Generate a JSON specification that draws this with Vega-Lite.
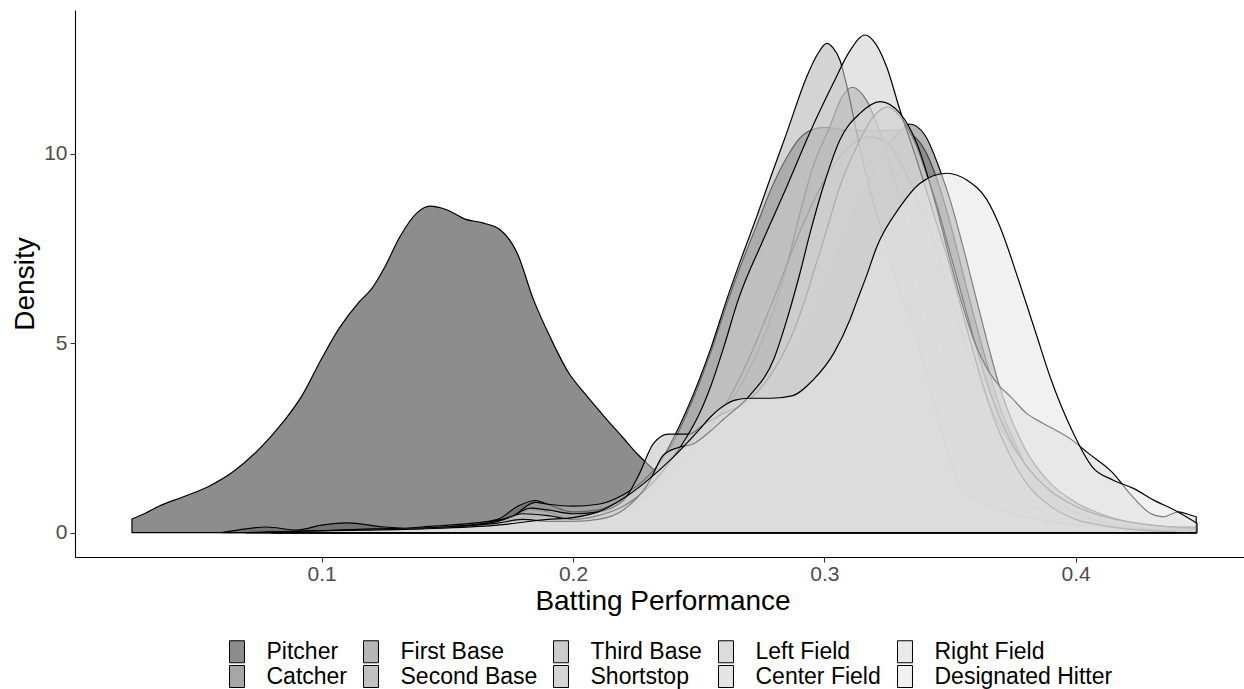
{
"$schema": "https://vega.github.io/schema/vega-lite/v6.json",
"width": 1169, "height": 547,
"autosize": {"type": "none"},
"padding": {"left": 75, "top": 10, "right": 0, "bottom": 132},
"background": "white",
"config": {"view": {"stroke": null}, "font": "Liberation Sans"},
"data": {"values": [
{"g":"Pitcher","x":0.0245,"y":0.36},{"g":"Pitcher","x":0.03,"y":0.52},{"g":"Pitcher","x":0.035,"y":0.69},{"g":"Pitcher","x":0.045,"y":0.95},{"g":"Pitcher","x":0.055,"y":1.22},{"g":"Pitcher","x":0.065,"y":1.62},{"g":"Pitcher","x":0.075,"y":2.2},{"g":"Pitcher","x":0.085,"y":2.95},{"g":"Pitcher","x":0.092,"y":3.6},{"g":"Pitcher","x":0.1,"y":4.6},{"g":"Pitcher","x":0.107,"y":5.4},{"g":"Pitcher","x":0.115,"y":6.1},{"g":"Pitcher","x":0.12,"y":6.45},{"g":"Pitcher","x":0.125,"y":7.0},{"g":"Pitcher","x":0.131,"y":7.8},{"g":"Pitcher","x":0.138,"y":8.45},{"g":"Pitcher","x":0.143,"y":8.62},{"g":"Pitcher","x":0.15,"y":8.52},{"g":"Pitcher","x":0.157,"y":8.28},{"g":"Pitcher","x":0.164,"y":8.18},{"g":"Pitcher","x":0.171,"y":8.0},{"g":"Pitcher","x":0.178,"y":7.35},{"g":"Pitcher","x":0.184,"y":6.2},{"g":"Pitcher","x":0.191,"y":5.15},{"g":"Pitcher","x":0.198,"y":4.25},{"g":"Pitcher","x":0.205,"y":3.65},{"g":"Pitcher","x":0.212,"y":3.1},{"g":"Pitcher","x":0.22,"y":2.5},{"g":"Pitcher","x":0.226,"y":2.05},{"g":"Pitcher","x":0.235,"y":1.5},{"g":"Pitcher","x":0.245,"y":1.0},{"g":"Pitcher","x":0.26,"y":0.55},{"g":"Pitcher","x":0.275,"y":0.3},{"g":"Pitcher","x":0.29,"y":0.15},{"g":"Pitcher","x":0.31,"y":0.07},{"g":"Pitcher","x":0.33,"y":0.03},{"g":"Pitcher","x":0.36,"y":0.01},{"g":"Pitcher","x":0.4,"y":0.0},
{"g":"Catcher","x":0.06,"y":0},{"g":"Catcher","x":0.07,"y":0.1},{"g":"Catcher","x":0.078,"y":0.15},{"g":"Catcher","x":0.09,"y":0.07},{"g":"Catcher","x":0.1,"y":0.2},{"g":"Catcher","x":0.11,"y":0.26},{"g":"Catcher","x":0.125,"y":0.15},{"g":"Catcher","x":0.14,"y":0.1},{"g":"Catcher","x":0.155,"y":0.2},{"g":"Catcher","x":0.17,"y":0.35},{"g":"Catcher","x":0.178,"y":0.7},{"g":"Catcher","x":0.185,"y":0.85},{"g":"Catcher","x":0.19,"y":0.75},{"g":"Catcher","x":0.2,"y":0.55},{"g":"Catcher","x":0.21,"y":0.6},{"g":"Catcher","x":0.22,"y":0.9},{"g":"Catcher","x":0.23,"y":1.4},{"g":"Catcher","x":0.235,"y":1.9},{"g":"Catcher","x":0.24,"y":2.4},{"g":"Catcher","x":0.245,"y":3.1},{"g":"Catcher","x":0.25,"y":3.9},{"g":"Catcher","x":0.255,"y":4.8},{"g":"Catcher","x":0.261,"y":6.0},{"g":"Catcher","x":0.267,"y":7.1},{"g":"Catcher","x":0.273,"y":8.1},{"g":"Catcher","x":0.279,"y":9.1},{"g":"Catcher","x":0.285,"y":9.9},{"g":"Catcher","x":0.29,"y":10.4},{"g":"Catcher","x":0.2955,"y":10.65},{"g":"Catcher","x":0.3,"y":10.7},{"g":"Catcher","x":0.31,"y":10.62},{"g":"Catcher","x":0.32,"y":10.62},{"g":"Catcher","x":0.33,"y":10.62},{"g":"Catcher","x":0.335,"y":10.5},{"g":"Catcher","x":0.34,"y":10.1},{"g":"Catcher","x":0.345,"y":9.3},{"g":"Catcher","x":0.35,"y":8.2},{"g":"Catcher","x":0.355,"y":6.9},{"g":"Catcher","x":0.36,"y":5.6},{"g":"Catcher","x":0.365,"y":4.4},{"g":"Catcher","x":0.37,"y":3.3},{"g":"Catcher","x":0.375,"y":2.5},{"g":"Catcher","x":0.38,"y":1.8},{"g":"Catcher","x":0.39,"y":1.0},{"g":"Catcher","x":0.4,"y":0.55},{"g":"Catcher","x":0.41,"y":0.3},{"g":"Catcher","x":0.42,"y":0.2},{"g":"Catcher","x":0.43,"y":0.1},{"g":"Catcher","x":0.44,"y":0.05},
{"g":"First Base","x":0.1,"y":0},{"g":"First Base","x":0.12,"y":0.05},{"g":"First Base","x":0.14,"y":0.1},{"g":"First Base","x":0.16,"y":0.2},{"g":"First Base","x":0.18,"y":0.3},{"g":"First Base","x":0.2,"y":0.3},{"g":"First Base","x":0.21,"y":0.35},{"g":"First Base","x":0.22,"y":0.55},{"g":"First Base","x":0.23,"y":1.0},{"g":"First Base","x":0.24,"y":1.7},{"g":"First Base","x":0.25,"y":2.3},{"g":"First Base","x":0.26,"y":2.8},{"g":"First Base","x":0.27,"y":3.2},{"g":"First Base","x":0.28,"y":3.9},{"g":"First Base","x":0.29,"y":4.9},{"g":"First Base","x":0.3,"y":6.4},{"g":"First Base","x":0.31,"y":8.1},{"g":"First Base","x":0.32,"y":9.6},{"g":"First Base","x":0.325,"y":10.2},{"g":"First Base","x":0.33,"y":10.6},{"g":"First Base","x":0.334,"y":10.79},{"g":"First Base","x":0.34,"y":10.5},{"g":"First Base","x":0.3468,"y":9.43},{"g":"First Base","x":0.35,"y":8.8},{"g":"First Base","x":0.355,"y":7.6},{"g":"First Base","x":0.36,"y":6.3},{"g":"First Base","x":0.365,"y":5.0},{"g":"First Base","x":0.37,"y":3.8},{"g":"First Base","x":0.375,"y":2.9},{"g":"First Base","x":0.38,"y":2.2},{"g":"First Base","x":0.39,"y":1.3},{"g":"First Base","x":0.4,"y":0.8},{"g":"First Base","x":0.41,"y":0.5},{"g":"First Base","x":0.42,"y":0.3},{"g":"First Base","x":0.43,"y":0.2},{"g":"First Base","x":0.44,"y":0.15},{"g":"First Base","x":0.448,"y":0.15},
{"g":"Second Base","x":0.09,"y":0},{"g":"Second Base","x":0.12,"y":0.05},{"g":"Second Base","x":0.14,"y":0.1},{"g":"Second Base","x":0.16,"y":0.2},{"g":"Second Base","x":0.175,"y":0.35},{"g":"Second Base","x":0.183,"y":0.6},{"g":"Second Base","x":0.19,"y":0.55},{"g":"Second Base","x":0.2,"y":0.35},{"g":"Second Base","x":0.21,"y":0.4},{"g":"Second Base","x":0.22,"y":0.6},{"g":"Second Base","x":0.23,"y":1.1},{"g":"Second Base","x":0.24,"y":1.9},{"g":"Second Base","x":0.25,"y":2.6},{"g":"Second Base","x":0.26,"y":3.2},{"g":"Second Base","x":0.27,"y":4.3},{"g":"Second Base","x":0.28,"y":5.9},{"g":"Second Base","x":0.285,"y":7.02},{"g":"Second Base","x":0.2903,"y":8.43},{"g":"Second Base","x":0.2955,"y":9.66},{"g":"Second Base","x":0.3022,"y":10.72},{"g":"Second Base","x":0.307,"y":11.5},{"g":"Second Base","x":0.311,"y":11.76},{"g":"Second Base","x":0.3169,"y":11.4},{"g":"Second Base","x":0.3222,"y":10.55},{"g":"Second Base","x":0.33,"y":8.8},{"g":"Second Base","x":0.34,"y":6.0},{"g":"Second Base","x":0.35,"y":3.8},{"g":"Second Base","x":0.36,"y":2.3},{"g":"Second Base","x":0.37,"y":1.4},{"g":"Second Base","x":0.38,"y":0.8},{"g":"Second Base","x":0.39,"y":0.5},{"g":"Second Base","x":0.4,"y":0.3},{"g":"Second Base","x":0.42,"y":0.15},{"g":"Second Base","x":0.44,"y":0.08},{"g":"Second Base","x":0.448,"y":0.05},
{"g":"Third Base","x":0.08,"y":0},{"g":"Third Base","x":0.12,"y":0.05},{"g":"Third Base","x":0.16,"y":0.15},{"g":"Third Base","x":0.18,"y":0.4},{"g":"Third Base","x":0.19,"y":0.45},{"g":"Third Base","x":0.2,"y":0.35},{"g":"Third Base","x":0.21,"y":0.4},{"g":"Third Base","x":0.22,"y":0.6},{"g":"Third Base","x":0.23,"y":1.0},{"g":"Third Base","x":0.24,"y":1.7},{"g":"Third Base","x":0.25,"y":2.4},{"g":"Third Base","x":0.26,"y":3.3},{"g":"Third Base","x":0.27,"y":4.6},{"g":"Third Base","x":0.28,"y":6.2},{"g":"Third Base","x":0.29,"y":7.9},{"g":"Third Base","x":0.3,"y":9.3},{"g":"Third Base","x":0.31,"y":10.2},{"g":"Third Base","x":0.318,"y":10.45},{"g":"Third Base","x":0.325,"y":10.3},{"g":"Third Base","x":0.33,"y":9.8},{"g":"Third Base","x":0.34,"y":8.3},{"g":"Third Base","x":0.35,"y":6.3},{"g":"Third Base","x":0.36,"y":4.3},{"g":"Third Base","x":0.37,"y":2.8},{"g":"Third Base","x":0.38,"y":1.8},{"g":"Third Base","x":0.39,"y":1.1},{"g":"Third Base","x":0.4,"y":0.7},{"g":"Third Base","x":0.41,"y":0.45},{"g":"Third Base","x":0.42,"y":0.3},{"g":"Third Base","x":0.43,"y":0.2},{"g":"Third Base","x":0.44,"y":0.12},{"g":"Third Base","x":0.448,"y":0.1},
{"g":"Shortstop","x":0.07,"y":0},{"g":"Shortstop","x":0.08,"y":0.02},{"g":"Shortstop","x":0.1,"y":0.05},{"g":"Shortstop","x":0.12,"y":0.05},{"g":"Shortstop","x":0.14,"y":0.15},{"g":"Shortstop","x":0.16,"y":0.25},{"g":"Shortstop","x":0.175,"y":0.4},{"g":"Shortstop","x":0.185,"y":0.8},{"g":"Shortstop","x":0.19,"y":0.75},{"g":"Shortstop","x":0.2,"y":0.7},{"g":"Shortstop","x":0.21,"y":0.75},{"g":"Shortstop","x":0.22,"y":1.0},{"g":"Shortstop","x":0.23,"y":1.5},{"g":"Shortstop","x":0.235,"y":1.9},{"g":"Shortstop","x":0.24,"y":2.5},{"g":"Shortstop","x":0.245,"y":3.2},{"g":"Shortstop","x":0.25,"y":4.0},{"g":"Shortstop","x":0.255,"y":4.9},{"g":"Shortstop","x":0.2611,"y":6.14},{"g":"Shortstop","x":0.267,"y":7.25},{"g":"Shortstop","x":0.2731,"y":8.34},{"g":"Shortstop","x":0.279,"y":9.45},{"g":"Shortstop","x":0.285,"y":10.55},{"g":"Shortstop","x":0.293,"y":12.04},{"g":"Shortstop","x":0.297,"y":12.6},{"g":"Shortstop","x":0.301,"y":12.92},{"g":"Shortstop","x":0.3035,"y":12.8},{"g":"Shortstop","x":0.3062,"y":12.48},{"g":"Shortstop","x":0.309,"y":11.78},{"g":"Shortstop","x":0.315,"y":9.9},{"g":"Shortstop","x":0.32,"y":8.6},{"g":"Shortstop","x":0.325,"y":7.5},{"g":"Shortstop","x":0.33,"y":6.4},{"g":"Shortstop","x":0.335,"y":5.5},{"g":"Shortstop","x":0.3413,"y":4.03},{"g":"Shortstop","x":0.347,"y":2.6},{"g":"Shortstop","x":0.3528,"y":1.39},{"g":"Shortstop","x":0.36,"y":0.9},{"g":"Shortstop","x":0.374,"y":0.52},{"g":"Shortstop","x":0.39,"y":0.3},{"g":"Shortstop","x":0.41,"y":0.15},{"g":"Shortstop","x":0.43,"y":0.08},{"g":"Shortstop","x":0.448,"y":0.05},
{"g":"Left Field","x":0.08,"y":0},{"g":"Left Field","x":0.1,"y":0.03},{"g":"Left Field","x":0.12,"y":0.07},{"g":"Left Field","x":0.14,"y":0.1},{"g":"Left Field","x":0.16,"y":0.2},{"g":"Left Field","x":0.175,"y":0.4},{"g":"Left Field","x":0.183,"y":0.65},{"g":"Left Field","x":0.19,"y":0.6},{"g":"Left Field","x":0.2,"y":0.5},{"g":"Left Field","x":0.21,"y":0.55},{"g":"Left Field","x":0.22,"y":0.85},{"g":"Left Field","x":0.226,"y":1.5},{"g":"Left Field","x":0.232,"y":2.35},{"g":"Left Field","x":0.238,"y":2.6},{"g":"Left Field","x":0.246,"y":2.6},{"g":"Left Field","x":0.252,"y":2.85},{"g":"Left Field","x":0.26,"y":3.15},{"g":"Left Field","x":0.27,"y":3.5},{"g":"Left Field","x":0.28,"y":4.3},{"g":"Left Field","x":0.285,"y":4.9},{"g":"Left Field","x":0.2923,"y":6.14},{"g":"Left Field","x":0.2956,"y":6.85},{"g":"Left Field","x":0.301,"y":8.0},{"g":"Left Field","x":0.3062,"y":9.14},{"g":"Left Field","x":0.3129,"y":10.19},{"g":"Left Field","x":0.3195,"y":10.98},{"g":"Left Field","x":0.3254,"y":11.24},{"g":"Left Field","x":0.3301,"y":10.98},{"g":"Left Field","x":0.3368,"y":10.19},{"g":"Left Field","x":0.34,"y":9.6},{"g":"Left Field","x":0.345,"y":8.6},{"g":"Left Field","x":0.35,"y":7.4},{"g":"Left Field","x":0.355,"y":6.2},{"g":"Left Field","x":0.36,"y":5.0},{"g":"Left Field","x":0.365,"y":3.9},{"g":"Left Field","x":0.37,"y":3.0},{"g":"Left Field","x":0.38,"y":1.8},{"g":"Left Field","x":0.39,"y":1.1},{"g":"Left Field","x":0.4,"y":0.7},{"g":"Left Field","x":0.41,"y":0.45},{"g":"Left Field","x":0.42,"y":0.3},{"g":"Left Field","x":0.43,"y":0.2},{"g":"Left Field","x":0.44,"y":0.15},{"g":"Left Field","x":0.448,"y":0.12},
{"g":"Center Field","x":0.08,"y":0},{"g":"Center Field","x":0.1,"y":0.05},{"g":"Center Field","x":0.13,"y":0.1},{"g":"Center Field","x":0.15,"y":0.15},{"g":"Center Field","x":0.17,"y":0.3},{"g":"Center Field","x":0.18,"y":0.5},{"g":"Center Field","x":0.19,"y":0.45},{"g":"Center Field","x":0.2,"y":0.35},{"g":"Center Field","x":0.21,"y":0.45},{"g":"Center Field","x":0.22,"y":0.7},{"g":"Center Field","x":0.23,"y":1.2},{"g":"Center Field","x":0.24,"y":2.0},{"g":"Center Field","x":0.245,"y":2.5},{"g":"Center Field","x":0.25,"y":3.1},{"g":"Center Field","x":0.255,"y":3.9},{"g":"Center Field","x":0.26,"y":4.9},{"g":"Center Field","x":0.2657,"y":6.14},{"g":"Center Field","x":0.2755,"y":7.7},{"g":"Center Field","x":0.2851,"y":9.14},{"g":"Center Field","x":0.2945,"y":10.6},{"g":"Center Field","x":0.3036,"y":11.87},{"g":"Center Field","x":0.31,"y":12.7},{"g":"Center Field","x":0.3162,"y":13.14},{"g":"Center Field","x":0.3205,"y":12.9},{"g":"Center Field","x":0.3248,"y":12.3},{"g":"Center Field","x":0.3301,"y":11.16},{"g":"Center Field","x":0.3368,"y":9.84},{"g":"Center Field","x":0.3434,"y":8.43},{"g":"Center Field","x":0.35,"y":7.02},{"g":"Center Field","x":0.355,"y":5.8},{"g":"Center Field","x":0.36,"y":4.6},{"g":"Center Field","x":0.365,"y":3.5},{"g":"Center Field","x":0.37,"y":2.6},{"g":"Center Field","x":0.375,"y":1.9},{"g":"Center Field","x":0.38,"y":1.35},{"g":"Center Field","x":0.39,"y":0.7},{"g":"Center Field","x":0.4,"y":0.35},{"g":"Center Field","x":0.41,"y":0.2},{"g":"Center Field","x":0.42,"y":0.1},{"g":"Center Field","x":0.43,"y":0.05},{"g":"Center Field","x":0.44,"y":0.02},
{"g":"Right Field","x":0.08,"y":0},{"g":"Right Field","x":0.1,"y":0.05},{"g":"Right Field","x":0.12,"y":0.1},{"g":"Right Field","x":0.15,"y":0.15},{"g":"Right Field","x":0.17,"y":0.25},{"g":"Right Field","x":0.18,"y":0.35},{"g":"Right Field","x":0.19,"y":0.3},{"g":"Right Field","x":0.2,"y":0.3},{"g":"Right Field","x":0.21,"y":0.35},{"g":"Right Field","x":0.22,"y":0.6},{"g":"Right Field","x":0.23,"y":1.3},{"g":"Right Field","x":0.236,"y":2.05},{"g":"Right Field","x":0.242,"y":2.25},{"g":"Right Field","x":0.248,"y":2.35},{"g":"Right Field","x":0.255,"y":2.7},{"g":"Right Field","x":0.26,"y":3.0},{"g":"Right Field","x":0.27,"y":3.6},{"g":"Right Field","x":0.28,"y":4.6},{"g":"Right Field","x":0.285,"y":5.6},{"g":"Right Field","x":0.2903,"y":6.85},{"g":"Right Field","x":0.2943,"y":7.9},{"g":"Right Field","x":0.2996,"y":9.14},{"g":"Right Field","x":0.3062,"y":10.37},{"g":"Right Field","x":0.3142,"y":11.07},{"g":"Right Field","x":0.3222,"y":11.38},{"g":"Right Field","x":0.3301,"y":11.07},{"g":"Right Field","x":0.3368,"y":10.28},{"g":"Right Field","x":0.345,"y":8.5},{"g":"Right Field","x":0.35,"y":7.2},{"g":"Right Field","x":0.355,"y":6.0},{"g":"Right Field","x":0.36,"y":5.0},{"g":"Right Field","x":0.365,"y":4.3},{"g":"Right Field","x":0.37,"y":3.85},{"g":"Right Field","x":0.374,"y":3.6},{"g":"Right Field","x":0.3805,"y":3.15},{"g":"Right Field","x":0.387,"y":2.89},{"g":"Right Field","x":0.3985,"y":2.45},{"g":"Right Field","x":0.405,"y":2.1},{"g":"Right Field","x":0.4148,"y":1.58},{"g":"Right Field","x":0.422,"y":1.0},{"g":"Right Field","x":0.4295,"y":0.52},{"g":"Right Field","x":0.435,"y":0.42},{"g":"Right Field","x":0.441,"y":0.55},{"g":"Right Field","x":0.445,"y":0.48},{"g":"Right Field","x":0.448,"y":0.42},
{"g":"Designated Hitter","x":0.07,"y":0},{"g":"Designated Hitter","x":0.1,"y":0.05},{"g":"Designated Hitter","x":0.14,"y":0.1},{"g":"Designated Hitter","x":0.17,"y":0.2},{"g":"Designated Hitter","x":0.19,"y":0.35},{"g":"Designated Hitter","x":0.2,"y":0.4},{"g":"Designated Hitter","x":0.21,"y":0.55},{"g":"Designated Hitter","x":0.22,"y":0.9},{"g":"Designated Hitter","x":0.23,"y":1.4},{"g":"Designated Hitter","x":0.24,"y":2.0},{"g":"Designated Hitter","x":0.25,"y":2.7},{"g":"Designated Hitter","x":0.2548,"y":3.06},{"g":"Designated Hitter","x":0.26,"y":3.35},{"g":"Designated Hitter","x":0.2645,"y":3.5},{"g":"Designated Hitter","x":0.27,"y":3.55},{"g":"Designated Hitter","x":0.279,"y":3.55},{"g":"Designated Hitter","x":0.2875,"y":3.62},{"g":"Designated Hitter","x":0.2955,"y":4.03},{"g":"Designated Hitter","x":0.3038,"y":4.74},{"g":"Designated Hitter","x":0.3102,"y":5.62},{"g":"Designated Hitter","x":0.3129,"y":6.1},{"g":"Designated Hitter","x":0.3169,"y":6.8},{"g":"Designated Hitter","x":0.3209,"y":7.55},{"g":"Designated Hitter","x":0.3301,"y":8.6},{"g":"Designated Hitter","x":0.338,"y":9.22},{"g":"Designated Hitter","x":0.3487,"y":9.49},{"g":"Designated Hitter","x":0.3567,"y":9.31},{"g":"Designated Hitter","x":0.3646,"y":8.8},{"g":"Designated Hitter","x":0.3699,"y":8.08},{"g":"Designated Hitter","x":0.3773,"y":6.67},{"g":"Designated Hitter","x":0.3838,"y":5.35},{"g":"Designated Hitter","x":0.3903,"y":4.03},{"g":"Designated Hitter","x":0.3985,"y":2.71},{"g":"Designated Hitter","x":0.4066,"y":1.74},{"g":"Designated Hitter","x":0.4148,"y":1.39},{"g":"Designated Hitter","x":0.423,"y":1.17},{"g":"Designated Hitter","x":0.4311,"y":0.86},{"g":"Designated Hitter","x":0.4393,"y":0.6},{"g":"Designated Hitter","x":0.4483,"y":0.25}
]},
"mark": {"type": "area", "interpolate": "monotone", "fillOpacity": 0.555, "stroke": "black", "strokeWidth": 1.2, "strokeJoin": "round"},
"encoding": {
"x": {"field": "x", "type": "quantitative", "title": "Batting Performance",
 "scale": {"domain": [0.00183, 0.46701], "nice": false, "zero": false},
 "axis": {"values": [0.1, 0.2, 0.3, 0.4], "format": ".1f", "grid": false, "domainColor": "black", "domainWidth": 1.1, "tickColor": "#333333", "tickSize": 5, "tickWidth": 1.1, "labelFont": "Liberation Sans", "labelFontSize": 21, "labelColor": "#4D4D4D", "labelPadding": 1, "titleFont": "Liberation Sans", "titleFontSize": 28, "titleFontWeight": "normal", "titleColor": "black", "titlePadding": 3, "titleX": 587.5}},
"y": {"field": "y", "type": "quantitative", "title": "Density", "stack": null,
 "scale": {"domain": [-0.642, 13.8], "nice": false, "zero": false},
 "axis": {"values": [0, 5, 10], "format": "d", "grid": false, "domainColor": "black", "domainWidth": 1.1, "tickColor": "#333333", "tickSize": 5, "tickWidth": 1.1, "labelFont": "Liberation Sans", "labelFontSize": 21, "labelColor": "#4D4D4D", "labelPadding": 3, "titleFont": "Liberation Sans", "titleFontSize": 28, "titleFontWeight": "normal", "titleColor": "black", "titlePadding": 4}},
"y2": {"datum": 0},
"fill": {"field": "g", "type": "nominal",
 "scale": {"domain": ["Pitcher", "Catcher", "First Base", "Second Base", "Third Base", "Shortstop", "Left Field", "Center Field", "Right Field", "Designated Hitter"],
  "range": ["#333333", "#5F5F5F", "#7A7A7A", "#909090", "#A2A2A2", "#B2B2B2", "#C0C0C0", "#CECECE", "#DADADA", "#E6E6E6"]},
 "legend": {"title": null, "orient": "none", "legendX": 150.5, "legendY": 630, "columns": 5, "padding": 0,
  "symbolType": "M-0.68,-1H0.68V1H-0.68Z", "symbolSize": 484, "symbolStrokeColor": "black", "symbolStrokeWidth": 1,
  "labelFont": "Liberation Sans", "labelFontSize": 23, "labelColor": "black", "labelOffset": 18, "labelLimit": 400, "columnPadding": 12, "rowPadding": -3,
  "encode": {"symbols": {"update": {"fillOpacity": {"value": 0.555}, "stroke": {"value": "black"}, "strokeWidth": {"value": 1}}}}}}
}
}
